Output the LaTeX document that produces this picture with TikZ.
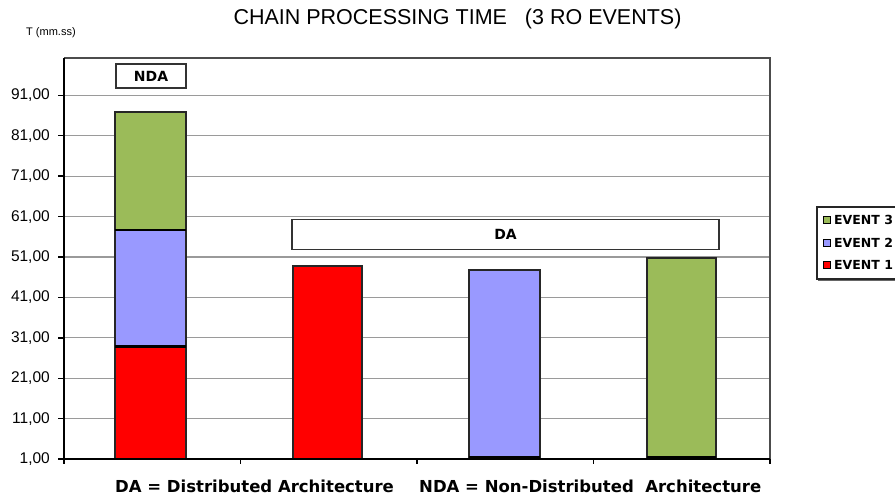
\documentclass[tikz,border=0pt]{standalone}
\usepackage{fontspec}
\setmainfont{Liberation Sans}
\newfontfamily\dvs{DejaVu Sans}
\definecolor{evgreen}{HTML}{9BBB59}
\definecolor{evblue}{HTML}{9999FF}
\definecolor{evred}{HTML}{FF0000}
\definecolor{gridgrey}{HTML}{9A9A9A}
\tikzset{
  gridline/.style={draw=gridgrey, line width=1.2pt},
  axisline/.style={draw=black, line width=1.4pt},
  barbox/.style={draw=black!85, line width=1.2pt},
  seg/.style={draw=black, line width=2.2pt},
  ticklabel/.style={anchor=east, inner sep=0pt, font=\fontsize{15.5}{16}\selectfont},
  boldlabel/.style={inner sep=0pt, font=\dvs\bfseries\fontsize{16.5}{18}\selectfont},
  tagbox/.style={draw=black!80, line width=1.2pt, fill=white, font=\dvs\bfseries\fontsize{14}{15}\selectfont, inner sep=0pt},
  legtext/.style={anchor=west, inner sep=0pt, font=\dvs\bfseries\fontsize{12.5}{13}\selectfont},
  legkey/.style={draw=black, line width=0.8pt, minimum size=7pt, inner sep=0pt},
}
\begin{document}
\begin{tikzpicture}[x=1pt,y=-1pt]
\useasboundingbox (0,0) rectangle (895,497);
% title
\node[anchor=base, inner sep=0pt, font=\fontsize{21.5}{24}\selectfont] (title) at (457.5,25) {CHAIN PROCESSING TIME \ \ (3 RO EVENTS)};
\node[anchor=base west, inner sep=0pt, font=\fontsize{11}{12}\selectfont] (yunit) at (26,36) {T (mm.ss)};
% grid
\foreach \v in {11,21,...,91} {
  \draw[gridline] (64,{459-(\v-1)*4.04}) -- (770,{459-(\v-1)*4.04});
}
\draw[draw=black!70, line width=1.2pt] (64,58) -- (770,58) -- (770,459);
% bars
\fill[evred]   (115,459) rectangle (186,346.5);
\fill[evblue]  (115,346.5) rectangle (186,230);
\fill[evgreen] (115,230) rectangle (186,112);
\draw[barbox] (115,459) rectangle (186,112);
\draw[seg] (115,346.5) -- (186,346.5);
\draw[seg] (115,230) -- (186,230);
\draw[barbox, fill=evred]   (293,459) rectangle (362,266);
\draw[barbox, fill=evblue]  (469,459) rectangle (540,270);
\draw[barbox, fill=evgreen] (647,459) rectangle (716,258);
\draw[seg] (469,457.5) -- (540,457.5);
\draw[seg] (647,457.5) -- (716,457.5);
% axes
\draw[axisline] (64,58) -- (64,459) -- (770,459);
\foreach \v in {1,11,...,91} {
  \draw[axisline] (58,{459-(\v-1)*4.04}) -- (64,{459-(\v-1)*4.04});
  \node[ticklabel] (tl\v) at (50,{459-(\v-1)*4.04}) {\v,00};
}
\foreach \x in {64,240.5,417,593.5,770} {
  \draw[axisline] (\x,459) -- (\x,464);
}
% tag boxes
\node[tagbox, minimum width=70pt, minimum height=24pt] (nda) at (151,76) {NDA};
\node[tagbox, minimum width=427pt, minimum height=30pt] (da) at (505.5,234.5) {DA};
% bottom labels
\node[boldlabel, anchor=base west] (dalabel) at (115,492) {DA = Distributed Architecture};
\node[boldlabel, anchor=base west] (ndalabel) at (419,492) {NDA = Non-Distributed \ Architecture};
% legend
\draw[draw=black!85, line width=1.2pt] (895,207) -- (817,207) -- (817,279) -- (895,279);
\draw[draw=black!60, line width=0.8pt] (818,280.5) -- (895,280.5);
\node[legkey, fill=evgreen] (k3) at (826.5,220) {};
\node[legkey, fill=evblue]  (k2) at (826.5,242.5) {};
\node[legkey, fill=evred]   (k1) at (826.5,265) {};
\node[legtext] (l3) at (834,220) {EVENT 3};
\node[legtext] (l2) at (834,242.5) {EVENT 2};
\node[legtext] (l1) at (834,265) {EVENT 1};
\end{tikzpicture}
\end{document}
